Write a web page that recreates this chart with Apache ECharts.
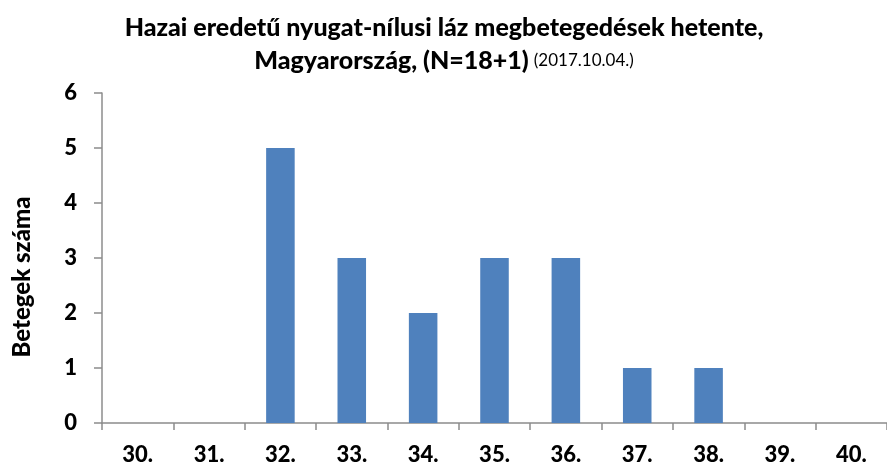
<!DOCTYPE html>
<html><head><meta charset="utf-8">
<script src="https://cdn.jsdelivr.net/npm/echarts@6/dist/echarts.min.js"></script>
<style>html,body{margin:0;padding:0;background:#fff}#c{width:887px;height:470px}</style>
</head><body><div id="c"></div>
<script>
const categories = ['30.', '31.', '32.', '33.', '34.', '35.', '36.', '37.', '38.', '39.', '40.'];
const cases = [0, 0, 5, 3, 2, 3, 3, 1, 1, 0, 0];
const yTicks = [0, 1, 2, 3, 4, 5, 6];
const titleLine1 = 'Hazai eredetű nyugat-nílusi láz megbetegedések hetente,';
const titleLine2 = 'Magyarország, (N=18+1)';
const titleDate = '(2017.10.04.)';
const yName = 'Betegek száma';

const FONT = 'Lato';
const chart = echarts.init(document.getElementById('c'));
chart.setOption({
  animation: false,
  title: {
    text: '{a|' + titleLine1 + '}\n{a|' + titleLine2 + '} {s|' + titleDate + '}',
    left: 439, top: 6, textAlign: 'center',
    textStyle: {
      fontWeight: 'normal',
      rich: {
        a: {fontFamily: FONT, fontWeight: 900, fontSize: 25, color: '#000', lineHeight: 33},
        s: {fontFamily: FONT, fontWeight: 'normal', fontSize: 17, color: '#000', lineHeight: 33}
      }
    }
  },
  graphic: [{
    type: 'text', rotation: Math.PI / 2,
    x: 22, y: 277,
    style: {text: yName, fontFamily: FONT, fontWeight: 900, fontSize: 24, fill: '#000',
      align: 'center', verticalAlign: 'middle'}
  }],
  grid: {left: 102, right: -7, top: 93, bottom: 47},
  xAxis: {
    type: 'category', data: categories,
    axisLine: {lineStyle: {color: '#8c8c8c', width: 1.5}},
    axisTick: {show: true, length: 7, lineStyle: {color: '#8c8c8c', width: 1.5}},
    axisLabel: {fontFamily: FONT, fontWeight: 900, fontSize: 22, color: '#000', margin: 21}
  },
  yAxis: {
    type: 'value', min: yTicks[0], max: yTicks[yTicks.length - 1], interval: 1,
    axisLine: {show: true, lineStyle: {color: '#8c8c8c', width: 1.5}},
    axisTick: {show: true, length: 8, lineStyle: {color: '#8c8c8c', width: 1.5}},
    splitLine: {show: false},
    axisLabel: {fontFamily: FONT, fontWeight: 900, fontSize: 22, color: '#000', margin: 25}
  },
  series: [{
    type: 'bar', data: cases, barWidth: '40%',
    itemStyle: {color: '#4F81BD'}
  }]
});
</script></body></html>
